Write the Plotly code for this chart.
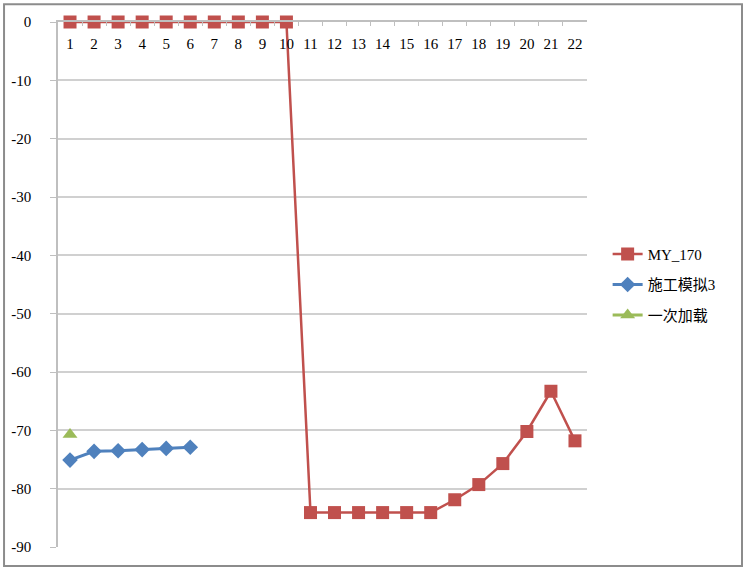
import plotly.graph_objects as go

# categories on the x axis
categories = [str(i) for i in range(1, 23)]

# series values
my170 = [0, 0, 0, 0, 0, 0, 0, 0, 0, 0,
         -84.1, -84.1, -84.1, -84.1, -84.1, -84.1,
         -81.9, -79.3, -75.7, -70.2, -63.3, -71.8]
sim3_x = ["1", "2", "3", "4", "5", "6"]
sim3 = [-75.1, -73.6, -73.5, -73.3, -73.1, -72.9]
once_x = ["1"]
once = [-70.7]

y_ticks = list(range(-90, 1, 10))
y_ticktext = [str(v) for v in y_ticks]  # plain hyphen like the original

serif = "Liberation Serif, Times New Roman, Noto Sans CJK SC, serif"

fig = go.Figure()

fig.add_trace(go.Scatter(
    x=categories, y=my170, name="MY_170", mode="lines+markers",
    legendgroup="a", cliponaxis=False,
    line=dict(color="#C0504D", width=2.5),
    marker=dict(symbol="square", size=13, color="#C0504D"),
))
fig.add_trace(go.Scatter(
    x=sim3_x, y=sim3, name="施工模拟3", mode="lines+markers",
    legendgroup="b", cliponaxis=False,
    line=dict(color="#4F81BD", width=3),
    marker=dict(symbol="diamond", size=12, color="#4F81BD"),
))
fig.add_trace(go.Scatter(
    x=once_x, y=once, name="一次加载", mode="lines+markers",
    legendgroup="c", cliponaxis=False,
    line=dict(color="#9BBB59", width=3),
    marker=dict(symbol="triangle-up", size=13, color="#9BBB59"),
))
# invisible trace so the label axis (x2) has data
fig.add_trace(go.Scatter(
    x=categories, y=[None] * len(categories), xaxis="x2",
    showlegend=False, hoverinfo="skip",
))

# outer frame around the whole chart
fig.add_shape(type="rect", xref="paper", yref="paper",
              x0=-0.102, x1=1.293, y0=-0.036, y1=1.034,
              line=dict(color="#8c8c8c", width=2))

fig.update_layout(
    width=746, height=569,
    margin=dict(l=58, r=159, t=22, b=22, autoexpand=False),
    paper_bgcolor="white", plot_bgcolor="white",
    font=dict(family=serif, size=15, color="black"),
    showlegend=True,
    legend=dict(x=1.039, xanchor="left", y=0.589, yanchor="top",
                traceorder="grouped", tracegroupgap=8,
                font=dict(family=serif, size=15),
                bgcolor="rgba(0,0,0,0)"),
    xaxis=dict(
        type="category", categoryorder="array", categoryarray=categories,
        side="top", showticklabels=False, tickson="boundaries",
        ticks="inside", ticklen=4, tickcolor="#bfbfbf",
        showline=True, linecolor="#bfbfbf", linewidth=1.5,
        showgrid=False, zeroline=False, range=[-0.5, 21.5],
    ),
    xaxis2=dict(
        type="category", categoryorder="array", categoryarray=categories,
        matches="x", overlaying="x", anchor="free", position=1, side="bottom",
        showline=False, ticks="", showgrid=False, zeroline=False,
        tickangle=0, tickfont=dict(family=serif, size=15), ticklabelstandoff=11,
    ),
    yaxis=dict(
        range=[-90, 0], tickvals=y_ticks, ticktext=y_ticktext,
        ticks="outside", ticklen=6,
        tickcolor="#bfbfbf", showline=True, linecolor="#bfbfbf", linewidth=1.5,
        showgrid=True, gridcolor="#d0d0d0", gridwidth=1.5, zeroline=False,
        tickfont=dict(family=serif, size=15), ticklabelstandoff=16,
    ),
)

fig.write_html("out.html", config={"displayModeBar": False},
               post_script="document.body.style.margin='0';")
